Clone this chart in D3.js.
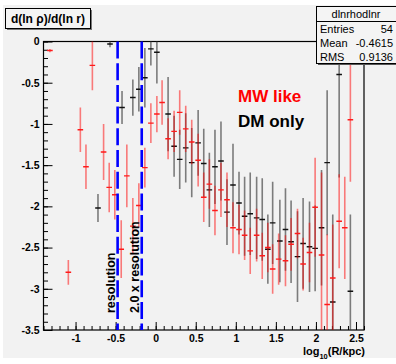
<!DOCTYPE html>
<html>
<head>
<meta charset="utf-8">
<script src="https://cdn.jsdelivr.net/npm/d3@7"></script>
<style>
	html, body { margin: 0; padding: 0; background: #fff; }
	svg { display: block; font-family: "Liberation Sans", Arial, sans-serif; }
</style>
</head>
<body>
<svg class="chart" width="396" height="364"></svg>
<script>
////////////////////////////////////////////////////////////
//// Data //////////////////////////////////////////////////
////////////////////////////////////////////////////////////
// MW like (red): log10(R/kpc), slope, error
const redX = [-1.32, -1.09, -0.94, -0.87, -0.79, -0.65, -0.58, -0.51, -0.43, -0.36, -0.285, -0.21, -0.135, -0.06, 0.015, 0.08,
	0.155, 0.23, 0.30, 0.375, 0.45, 0.53, 0.60, 0.67, 0.74, 0.815, 0.89, 0.965, 1.04, 1.11, 1.18, 1.26, 1.33, 1.40,
	1.46, 1.535, 1.62, 1.69, 1.77, 1.84, 1.92, 1.99, 2.07, 2.14, 2.21, 2.29, 2.36, 2.43];
const redY = [-0.11, -2.80, -1.07, -1.52, -0.29, -1.34, -1.77, -1.86, -2.52, -1.63, -2.24, -1.99, -1.53, -0.99, -0.88, -0.74,
	-1.18, -1.09, -0.86, -1.06, -1.22, -1.44, -1.89, -1.73, -2.05, -1.80, -1.92, -2.26, -2.28, -2.35, -2.54, -2.35, -2.60, -2.50,
	-2.76, -2.64, -2.66, -2.46, -2.33, -2.70, -2.56, -2.01, -2.59, -3.19, -2.87, -2.18, -2.26, -0.95];
const redErr = [0.02, 0.15, 0.27, 0.27, 0.30, 0.34, 0.30, 0.30, 0.35, 0.38, 0.34, 0.27, 0.24, 0.24, 0.22, 0.27,
	0.25, 0.25, 0.27, 0.28, 0.27, 0.32, 0.30, 0.30, 0.30, 0.33, 0.33, 0.31, 0.30, 0.30, 0.28, 0.32, 0.28, 0.30,
	0.30, 0.31, 0.31, 0.32, 0.30, 0.32, 0.36, 0.60, 1.00, 0.85, 0.65, 0.57, 0.62, 0.75];

// DM only (black)
const blackX = [-0.72, -0.57, -0.42, -0.285, -0.21, -0.135, -0.06, 0.015, 0.155, 0.23, 0.30, 0.375, 0.45, 0.53, 0.60, 0.67,
	0.74, 0.815, 0.89, 0.965, 1.04, 1.11, 1.18, 1.26, 1.33, 1.40, 1.46, 1.55, 1.62, 1.69, 1.77, 1.84, 1.92, 1.99,
	2.07, 2.14, 2.21, 2.29, 2.43];
const blackY = [-2.02, -0.03, -0.80, -0.68, -0.58, -0.44, -0.09, -0.13, -0.88, -1.27, -1.43, -1.29, -1.47, -1.23, -1.48, -1.80,
	-1.52, -1.45, -2.07, -1.74, -1.96, -2.12, -2.09, -2.14, -2.16, -2.52, -2.20, -2.42, -2.28, -2.43, -2.61, -2.45, -2.49, -2.51,
	-2.26, -1.47, -3.16, -0.40, -3.03];
const blackErr = [0.17, 0.04, 0.20, 0.22, 0.27, 0.36, 0.20, 0.38, 0.45, 0.37, 0.36, 0.42, 0.42, 0.40, 0.42, 0.45,
	0.45, 0.48, 0.40, 0.50, 0.38, 0.48, 0.50, 0.50, 0.50, 0.42, 0.50, 0.50, 0.50, 0.50, 0.55, 0.55, 0.55, 0.52,
	0.70, 0.88, 1.06, 1.25, 0.93];

const resolutionLines = [-0.475, -0.174];
const resolutionLabels = ["resolution", "2.0 x resolution"];
const legendLabels = ["MW like", "DM only"];
const legendColors = ["#ff0000", "#000000"];
const statsNames = ["Entries", "Mean", "RMS"];
const statsValues = ["54", "-0.4615", "0.9136"];

////////////////////////////////////////////////////////////
//// Setup /////////////////////////////////////////////////
////////////////////////////////////////////////////////////
const svg = d3.select(".chart");
const frame = { left: 43.5, right: 364, top: 41.5, bottom: 330 };

const x = d3.scaleLinear().domain([-1.4, 2.6]).range([frame.left, frame.right]);
const y = d3.scaleLinear().domain([-3.5, 0]).range([frame.bottom, frame.top]);

// canvas background
svg.append("rect")
	.attr("x", 3).attr("y", 5)
	.attr("width", 393).attr("height", 353)
	.attr("fill", "#f2f2f2");

svg.append("clipPath")
	.attr("id", "plot-clip")
	.append("rect")
	.attr("x", frame.left).attr("y", frame.top)
	.attr("width", frame.right - frame.left)
	.attr("height", frame.bottom - frame.top);

////////////////////////////////////////////////////////////
//// Axes //////////////////////////////////////////////////
////////////////////////////////////////////////////////////
const fmt = d => String(d);

const yMinor = svg.append("g")
	.attr("transform", `translate(${frame.left},0)`)
	.call(d3.axisLeft(y).tickValues(d3.range(-35, 1).map(d => d / 10)).tickSizeInner(-4.5).tickSizeOuter(0).tickFormat(""));
const yMajor = svg.append("g")
	.attr("transform", `translate(${frame.left},0)`)
	.call(d3.axisLeft(y).tickValues(d3.range(-7, 1).map(d => d / 2)).tickSizeInner(-9).tickSizeOuter(0).tickPadding(4).tickFormat(fmt));

const xMinor = svg.append("g")
	.attr("transform", `translate(0,${frame.bottom})`)
	.call(d3.axisBottom(x).tickValues(d3.range(-14, 27).map(d => d / 10)).tickSizeInner(-4).tickSizeOuter(0).tickFormat(""));
const xMajor = svg.append("g")
	.attr("transform", `translate(0,${frame.bottom})`)
	.call(d3.axisBottom(x).tickValues(d3.range(-2, 6).map(d => d / 2)).tickSizeInner(-8).tickSizeOuter(0).tickPadding(5).tickFormat(fmt));

[yMinor, yMajor, xMinor, xMajor].forEach(a => {
	a.select(".domain").remove();
	a.selectAll(".tick line").attr("stroke", "#000").attr("stroke-width", 1);
	a.selectAll("text")
		.attr("fill", "#000")
		.attr("font-size", 10.5)
		.attr("font-weight", "bold")
		.attr("font-family", "Liberation Sans, Arial, sans-serif");
});

// frame
svg.append("rect")
	.attr("x", frame.left).attr("y", frame.top)
	.attr("width", frame.right - frame.left)
	.attr("height", frame.bottom - frame.top)
	.attr("fill", "none")
	.attr("stroke", "#000")
	.attr("stroke-width", 1.2);

// x axis title: log10(R/kpc)
const xTitle = svg.append("text")
	.attr("x", frame.right + 1)
	.attr("y", 355)
	.attr("text-anchor", "end")
	.attr("font-size", 11)
	.attr("font-weight", "bold")
	.attr("fill", "#000");
xTitle.append("tspan").text("log");
xTitle.append("tspan").attr("dy", 3.5).attr("font-size", 7.5).text("10");
xTitle.append("tspan").attr("dy", -3.5).text("(R/kpc)");

////////////////////////////////////////////////////////////
//// Marks /////////////////////////////////////////////////
////////////////////////////////////////////////////////////
const plot = svg.append("g").attr("clip-path", "url(#plot-clip)");

function drawSeries(xs, ys, errs, barColor, markColor) {
	const data = xs.map((d, i) => ({ x: d, y: ys[i], e: errs[i] }));
	const g = plot.append("g");
	g.selectAll("line.bar")
		.data(data)
		.join("line")
		.attr("class", "bar")
		.attr("x1", d => x(d.x)).attr("x2", d => x(d.x))
		.attr("y1", d => y(d.y + d.e)).attr("y2", d => y(d.y - d.e))
		.attr("stroke", barColor)
		.attr("stroke-width", 1.6);
	g.selectAll("line.mark")
		.data(data)
		.join("line")
		.attr("class", "mark")
		.attr("x1", d => x(d.x) - 2.8).attr("x2", d => x(d.x) + 2.8)
		.attr("y1", d => y(d.y)).attr("y2", d => y(d.y))
		.attr("stroke", markColor)
		.attr("stroke-width", 1.4);
}

drawSeries(blackX, blackY, blackErr, "rgba(60,60,60,0.65)", "#111");
drawSeries(redX, redY, redErr, "rgba(255,0,0,0.5)", "#ff1a1a");

// resolution lines
svg.append("g")
	.selectAll("line")
	.data(resolutionLines)
	.join("line")
	.attr("x1", d => x(d)).attr("x2", d => x(d))
	.attr("y1", frame.top).attr("y2", frame.bottom)
	.attr("stroke", "#0000ff")
	.attr("stroke-width", 2.6)
	.attr("stroke-dasharray", "17,4.7");

svg.append("g")
	.selectAll("text")
	.data(resolutionLines)
	.join("text")
	.attr("transform", d => `translate(${x(d) - 2.5},313) rotate(-90)`)
	.attr("font-size", 12.5)
	.attr("font-weight", "bold")
	.attr("fill", "#000")
	.text((d, i) => resolutionLabels[i]);

////////////////////////////////////////////////////////////
//// Legend and boxes //////////////////////////////////////
////////////////////////////////////////////////////////////
svg.append("g")
	.selectAll("text")
	.data(legendLabels)
	.join("text")
	.attr("x", 238)
	.attr("y", (d, i) => 102 + i * 25)
	.attr("font-size", 17)
	.attr("font-weight", "bold")
	.attr("fill", (d, i) => legendColors[i])
	.text(d => d);

// title box
svg.append("rect").attr("x", 7).attr("y", 10).attr("width", 85).attr("height", 20).attr("fill", "#777");
svg.append("rect")
	.attr("x", 5.5).attr("y", 8.5).attr("width", 85).attr("height", 20)
	.attr("fill", "#f4f4f4").attr("stroke", "#000").attr("stroke-width", 1);
svg.append("text")
	.attr("x", 48).attr("y", 23)
	.attr("text-anchor", "middle")
	.attr("font-size", 12)
	.attr("font-weight", "bold")
	.text("d(ln ρ)/d(ln r)");

// stats box
const stats = svg.append("g").attr("font-family", "Liberation Sans Narrow, Liberation Sans, Arial, sans-serif").attr("font-size", 11);
stats.append("rect").attr("x", 318).attr("y", 8).attr("width", 80).attr("height", 57).attr("fill", "#555");
stats.append("rect")
	.attr("x", 316.5).attr("y", 6.5).attr("width", 80).attr("height", 57)
	.attr("fill", "#f4f4f4").attr("stroke", "#000").attr("stroke-width", 1);
stats.append("line")
	.attr("x1", 316.5).attr("x2", 396).attr("y1", 21.5).attr("y2", 21.5)
	.attr("stroke", "#000");
stats.append("text")
	.attr("x", 356).attr("y", 18)
	.attr("text-anchor", "middle")
	.text("dlnrhodlnr");
stats.selectAll("text.name")
	.data(statsNames)
	.join("text")
	.attr("class", "name")
	.attr("x", 320)
	.attr("y", (d, i) => 33 + i * 14)
	.text(d => d);
stats.selectAll("text.value")
	.data(statsValues)
	.join("text")
	.attr("class", "value")
	.attr("x", 393)
	.attr("y", (d, i) => 33 + i * 14)
	.attr("text-anchor", "end")
	.text(d => d);
</script>
</body>
</html>
